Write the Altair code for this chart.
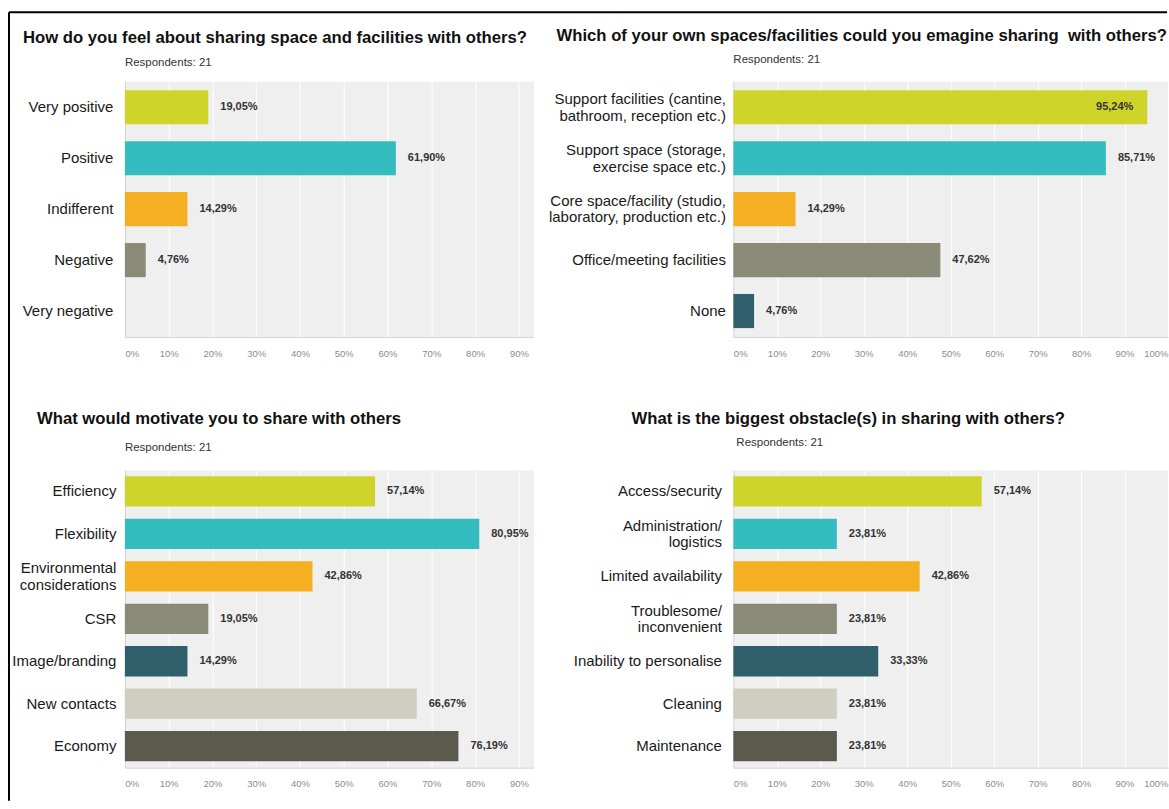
import altair as alt
import pandas as pd

FONT = "Liberation Sans"
PALETTE = ["#CFD42A", "#33BDBF", "#F5AF23", "#8A8A78", "#2F5F6B", "#CFCEC0", "#5C5A4C"]
RESPONDENTS = "Respondents: 21"

q1_title = "How do you feel about sharing space and facilities with others?"
q1_cats = ["Very positive", "Positive", "Indifferent", "Negative", "Very negative"]
q1_vals = [19.05, 61.90, 14.29, 4.76, 0.0]

q2_title = "Which of your own spaces/facilities could you emagine sharing\u00a0 with others?"
q2_cats = [
    "Support facilities (cantine,\nbathroom, reception etc.)",
    "Support space (storage,\nexercise space etc.)",
    "Core space/facility (studio,\nlaboratory, production etc.)",
    "Office/meeting facilities",
    "None",
]
q2_vals = [95.24, 85.71, 14.29, 47.62, 4.76]

q3_title = "What would motivate you to share with others"
q3_cats = ["Efficiency", "Flexibility", "Environmental\nconsiderations", "CSR",
           "Image/branding", "New contacts", "Economy"]
q3_vals = [57.14, 80.95, 42.86, 19.05, 14.29, 66.67, 76.19]

q4_title = "What is the biggest obstacle(s) in sharing with others?"
q4_cats = ["Access/security", "Administration/\nlogistics", "Limited availability",
           "Troublesome/\ninconvenient", "Inability to personalise", "Cleaning", "Maintenance"]
q4_vals = [57.14, 23.81, 42.86, 23.81, 33.33, 23.81, 23.81]

ticks_90 = [0, 0.1, 0.2, 0.3, 0.4, 0.5, 0.6, 0.7, 0.8, 0.9]
ticks_100 = ticks_90 + [1.0]


def fmt(v):
    return f"{v:.2f}".replace(".", ",") + "%"


def panel(title, cats, vals, width, height, xmax, tick_vals, pad_in, pad_out,
          label_pad, title_xy, resp_xy, extra=None):
    df = pd.DataFrame({
        "cat": cats,
        "value": [v / 100 for v in vals],
        "label": [fmt(v) for v in vals],
    })
    # label goes inside the bar when it would not fit after the bar end
    df["inside"] = [(v / 100) / xmax * width + 52 > width for v in vals]
    df["show"] = [v > 0 for v in vals]

    y = alt.Y("cat:N", sort=cats, title=None,
              scale=alt.Scale(domain=cats, paddingInner=pad_in, paddingOuter=pad_out),
              axis=alt.Axis(
                  labelPadding=label_pad,
                  labelExpr="split(datum.label, '\\n')",
                  labelOffset={"condition": {"test": "indexof(datum.label, '\\n') >= 0",
                                             "value": -8},
                               "value": 0},
              ))
    x = alt.X("value:Q", title=None,
              scale=alt.Scale(domain=[0, xmax], nice=False, zero=True),
              axis=alt.Axis(values=tick_vals, format=".0%"))

    base = alt.Chart(df)
    bars = base.mark_bar().encode(
        x=x, y=y,
        color=alt.Color("cat:N", scale=alt.Scale(domain=cats, range=PALETTE[:len(cats)]),
                        legend=None),
    )
    lab_out = base.transform_filter("datum.show && !datum.inside").mark_text(
        align="left", baseline="middle", dx=12, font=FONT, fontSize=11,
        fontWeight="bold", color="#333333",
    ).encode(x="value:Q", y=alt.Y("cat:N", sort=cats), text="label:N")
    lab_in = base.transform_filter("datum.show && datum.inside").mark_text(
        align="right", baseline="middle", dx=-14, font=FONT, fontSize=11,
        fontWeight="bold", color="#333333",
    ).encode(x="value:Q", y=alt.Y("cat:N", sort=cats), text="label:N")

    ttl = alt.Chart(pd.DataFrame({"t": [title]})).mark_text(
        align="left", baseline="middle", font=FONT, fontSize=16.7,
        fontWeight="bold", color="#111111",
    ).encode(text="t:N", x=alt.value(title_xy[0]), y=alt.value(title_xy[1]))
    resp = alt.Chart(pd.DataFrame({"t": [RESPONDENTS]})).mark_text(
        align="left", baseline="middle", font=FONT, fontSize=11.5, color="#333333",
    ).encode(text="t:N", x=alt.value(resp_xy[0]), y=alt.value(resp_xy[1]))

    layers = [bars, lab_out, lab_in, ttl, resp]
    if extra:
        layers += extra
    return alt.layer(*layers).properties(width=width, height=height).resolve_scale(
        color="independent")


frame_df = pd.DataFrame({"a": [0]})
frame_v = alt.Chart(frame_df).mark_rule(color="#000000", strokeWidth=2).encode(
    x=alt.value(-116), y=alt.value(-69), y2=alt.value(720))
frame_h = alt.Chart(frame_df).mark_rule(color="#000000", strokeWidth=2).encode(
    x=alt.value(-116), x2=alt.value(1043), y=alt.value(-69))

p1 = panel(q1_title, q1_cats, q1_vals, 409, 256, 0.9335, ticks_90, 0.33, 0.176, 12,
           (-102, -43), (0, -18), extra=[frame_v, frame_h])
p2 = panel(q2_title, q2_cats, q2_vals, 435, 256, 1.0, ticks_100, 0.33, 0.176, 8,
           (-177, -45), (0, -21))
p3 = panel(q3_title, q3_cats, q3_vals, 409, 298, 0.9335, ticks_90, 0.286, 0.15, 9,
           (-88, -51), (0, -22))
p4 = panel(q4_title, q4_cats, q4_vals, 435, 298, 1.0, ticks_100, 0.286, 0.15, 12,
           (-102, -51), (3, -27))

chart = alt.concat(
    p1, p2, p3, p4, columns=2, spacing={"row": 133, "column": 200}, bounds="flush"
).resolve_scale(
    color="independent"
).properties(
    padding={"left": 7, "top": 10, "right": 0, "bottom": 0},
    background="white",
).configure_view(
    fill="#EFEFEF", stroke="transparent",
).configure_axisY(
    labelFont=FONT, labelFontSize=15, labelColor="#1a1a1a", domainColor="#d0d0d0",
    ticks=False, tickSize=0, grid=False, labelLineHeight=16.3, labelLimit=300,
).configure_axisX(
    labelFont=FONT, labelFontSize=9.5, labelColor="#8c8c8c", domainColor="#d4d4d4",
    ticks=False, tickSize=0, grid=True, gridColor="#ffffff", gridWidth=1,
    labelFlush=True, labelPadding=11,
)

chart.save("out.html", embed_options={"renderer": "svg", "actions": False})
